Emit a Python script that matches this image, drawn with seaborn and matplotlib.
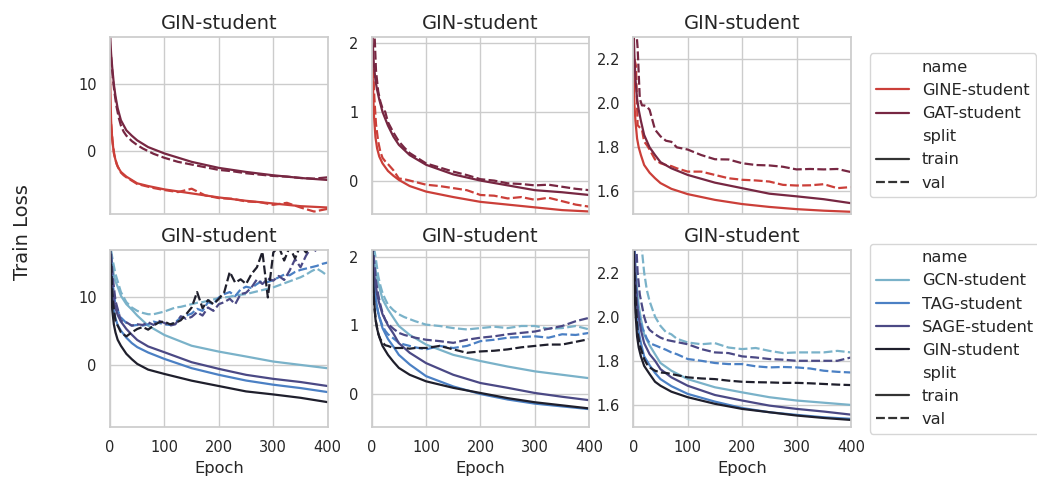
import matplotlib
matplotlib.use("Agg")
import matplotlib.pyplot as plt
import numpy as np
import pandas as pd
import seaborn as sns

# ---------------- data ----------------
train_epochs = [0, 2, 4, 7, 10, 14, 20, 30, 40, 50, 70, 100, 150, 200, 250, 300, 350, 400]
val_epochs = [2, 5, 8, 12, 16, 20, 25, 30, 40, 50, 60, 70, 80, 100, 125, 150, 175,
              200, 225, 250, 275, 300, 325, 350, 375, 400]
noisy_epochs = [2, 5, 10, 20, 30, 40, 50, 60, 70, 80, 90, 100, 110, 120, 130, 140, 150,
                160, 170, 180, 190, 200, 210, 220, 230, 240, 250, 260, 270, 280, 290,
                300, 310, 320, 330, 340, 350, 360, 370, 380, 390, 400]

top_names = ["GINE-student", "GAT-student"]
bottom_names = ["GCN-student", "TAG-student", "SAGE-student", "GIN-student"]
splits = ["train", "val"]
panel_title = "GIN-student"

# top row, column 1
t1_gat_train = [17.5, 14.5, 12.5, 10.0, 8.2, 6.4, 4.6, 3.1, 2.3, 1.6, 0.6, -0.35, -1.6, -2.5, -3.1, -3.6, -4.0, -4.3]
t1_gat_val = [14.0, 11.0, 8.8, 6.6, 5.0, 3.8, 2.9, 2.3, 1.5, 0.9, 0.4, 0.0, -0.4, -1.0, -1.6, -2.0, -2.4,
              -2.8, -3.0, -3.3, -3.5, -3.7, -3.8, -4.0, -4.1, -3.9]
t1_gine_train = [11.0, 4.5, 1.8, -0.3, -1.3, -2.3, -3.1, -3.8, -4.3, -4.8, -5.2, -5.7, -6.3, -6.9, -7.4, -7.8, -8.2, -8.4]
t1_gine_val = [4.0, 1.2, -0.6, -1.9, -2.6, -3.2, -3.6, -3.9, -4.4, -4.9, -5.1, -5.3, -5.5, -5.8, -6.1, -5.6, -6.6,
               -7.0, -7.1, -7.5, -7.6, -8.0, -7.7, -8.4, -9.0, -8.6]

# top row, column 2
t2_gat_train = [2.5, 2.0, 1.70, 1.46, 1.32, 1.18, 1.0, 0.80, 0.64, 0.52, 0.37, 0.23, 0.09, 0.0, -0.07, -0.14, -0.17, -0.21]
t2_gat_val = [2.6, 2.2, 1.6, 1.3, 1.15, 1.05, 1.0, 0.85, 0.70, 0.57, 0.48, 0.40, 0.35, 0.25, 0.19, 0.13, 0.08,
              0.02, 0.0, -0.04, -0.05, -0.07, -0.06, -0.09, -0.12, -0.14]
t2_gine_train = [2.3, 1.5, 0.98, 0.63, 0.47, 0.35, 0.25, 0.14, 0.07, 0.01, -0.08, -0.16, -0.24, -0.31, -0.35, -0.39, -0.43, -0.45]
t2_gine_val = [1.8, 1.2, 0.82, 0.57, 0.42, 0.33, 0.28, 0.24, 0.15, 0.03, 0.02, 0.0, -0.02, -0.06, -0.08, -0.11, -0.14,
               -0.21, -0.22, -0.26, -0.24, -0.28, -0.25, -0.30, -0.35, -0.38]

# top row, column 3
t3_gat_train = [2.4, 2.22, 2.11, 2.02, 1.97, 1.92, 1.856, 1.80, 1.765, 1.733, 1.705, 1.675, 1.64, 1.615, 1.59, 1.578, 1.565, 1.547]
t3_gat_val = [2.4, 2.35, 2.25, 2.02, 1.99, 1.99, 1.985, 1.97, 1.88, 1.85, 1.83, 1.825, 1.80, 1.79, 1.765, 1.746, 1.745,
              1.728, 1.72, 1.718, 1.712, 1.70, 1.702, 1.70, 1.702, 1.688]
t3_gine_train = [2.2, 2.0, 1.92, 1.84, 1.80, 1.765, 1.72, 1.685, 1.66, 1.638, 1.612, 1.588, 1.562, 1.543, 1.53, 1.52, 1.513, 1.508]
t3_gine_val = [2.2, 2.17, 1.90, 1.89, 1.88, 1.826, 1.81, 1.79, 1.745, 1.728, 1.72, 1.715, 1.705, 1.69, 1.69, 1.675, 1.66,
               1.653, 1.65, 1.645, 1.63, 1.627, 1.628, 1.633, 1.615, 1.62]

# bottom row, column 1
b1_gcn_train = [17.5, 16.5, 15.0, 13.3, 12.4, 11.6, 10.25, 9.0, 8.2, 7.3, 5.8, 4.4, 2.8, 1.93, 1.2, 0.45, -0.05, -0.55]
b1_tag_train = [17.5, 13.0, 9.5, 8.0, 6.9, 5.9, 5.05, 4.0, 3.2, 2.6, 1.8, 0.84, -0.54, -1.53, -2.38, -3.0, -3.5, -4.1]
b1_sage_train = [17.5, 14.0, 11.0, 9.4, 8.4, 7.4, 6.4, 5.3, 4.45, 3.66, 2.7, 1.83, 0.35, -0.64, -1.53, -2.13, -2.6, -3.2]
b1_gin_train = [17.5, 12.0, 8.2, 6.0, 4.8, 3.7, 2.8, 1.6, 0.8, 0.1, -0.75, -1.4, -2.4, -3.2, -4.0, -4.45, -4.95, -5.6]
b1_gcn_val = [17.0, 15.5, 13.5, 10.8, 9.3, 8.5, 8.0, 7.7, 7.5, 7.5, 7.7, 7.9, 8.2, 8.5, 8.6, 8.8, 9.0, 9.2, 9.3, 9.5,
              9.7, 9.9, 10.0, 10.1, 10.3, 10.4, 10.5, 10.7, 10.9, 11.1, 11.3, 11.5, 11.8, 12.1, 12.4, 12.7,
              13.0, 13.4, 13.9, 14.3, 13.8, 13.2]
b1_tag_val = [16.0, 12.0, 8.8, 7.0, 6.2, 5.8, 5.9, 5.8, 6.0, 6.4, 6.2, 6.0, 5.9, 6.3, 7.0, 7.3, 7.6, 8.3, 8.0, 9.3,
              9.0, 10.0, 10.5, 10.8, 10.2, 11.2, 11.6, 11.4, 12.0, 12.5, 12.3, 12.6, 13.0, 13.4, 13.3, 13.8,
              14.1, 14.3, 14.5, 14.7, 15.0, 15.2]
b1_sage_val = [16.5, 13.0, 9.5, 6.5, 6.3, 5.8, 6.0, 5.9, 6.3, 5.9, 6.5, 6.2, 5.8, 6.0, 7.2, 6.8, 7.1, 7.8, 7.3, 8.5,
               8.0, 9.0, 9.3, 9.8, 9.0, 10.5, 10.7, 11.5, 12.7, 12.0, 12.8, 12.5, 13.2, 12.6, 14.0, 15.7,
               14.5, 16.2, 17.5, 16.8, 18.0, 18.5]
b1_gin_val = [15.0, 9.5, 6.5, 4.8, 4.2, 4.8, 5.3, 5.6, 5.2, 5.8, 6.3, 6.4, 6.0, 6.2, 6.6, 7.5, 8.5, 10.8, 8.4, 9.6,
              9.0, 9.8, 10.8, 13.8, 12.2, 12.7, 12.0, 13.5, 14.5, 16.8, 10.0, 16.7, 17.6, 15.5, 17.5, 15.8,
              17.8, 16.7, 18.0, 18.5, 19.0, 19.5]

# bottom row, column 2
b2_gcn_train = [2.5, 2.15, 1.96, 1.82, 1.68, 1.56, 1.38, 1.23, 1.11, 0.99, 0.86, 0.72, 0.57, 0.48, 0.40, 0.33, 0.28, 0.23]
b2_tag_train = [2.5, 1.9, 1.62, 1.43, 1.26, 1.12, 0.96, 0.80, 0.69, 0.57, 0.43, 0.26, 0.11, 0.0, -0.08, -0.14, -0.18, -0.22]
b2_sage_train = [2.5, 2.0, 1.77, 1.62, 1.45, 1.32, 1.16, 1.0, 0.88, 0.74, 0.60, 0.45, 0.28, 0.16, 0.09, 0.015, -0.04, -0.09]
b2_gin_train = [2.5, 1.8, 1.43, 1.09, 0.95, 0.83, 0.70, 0.57, 0.47, 0.38, 0.28, 0.185, 0.09, 0.015, -0.06, -0.12, -0.165, -0.21]
b2_gcn_val = [2.3, 2.1, 1.95, 1.72, 1.58, 1.47, 1.38, 1.30, 1.22, 1.16, 1.12, 1.09, 1.06, 1.01, 0.99, 0.96, 0.94,
              0.96, 0.98, 0.96, 0.99, 0.99, 0.95, 0.96, 0.99, 0.94]
b2_tag_val = [2.0, 1.6, 1.35, 1.18, 1.08, 0.99, 0.92, 0.87, 0.81, 0.745, 0.72, 0.70, 0.68, 0.65, 0.70, 0.67, 0.70,
              0.77, 0.79, 0.82, 0.83, 0.84, 0.82, 0.87, 0.86, 0.89]
b2_sage_val = [2.2, 1.9, 1.65, 1.45, 1.30, 1.18, 1.08, 1.02, 0.95, 0.89, 0.86, 0.84, 0.82, 0.79, 0.77, 0.745, 0.79,
               0.82, 0.84, 0.87, 0.89, 0.91, 0.95, 0.99, 1.06, 1.11]
b2_gin_val = [1.6, 1.25, 1.05, 0.88, 0.80, 0.75, 0.71, 0.70, 0.67, 0.67, 0.67, 0.66, 0.67, 0.67, 0.70, 0.65, 0.60,
              0.62, 0.63, 0.65, 0.68, 0.70, 0.72, 0.72, 0.76, 0.80]

# bottom row, column 3
b3_gcn_train = [2.5, 2.35, 2.23, 2.12, 2.05, 1.99, 1.92, 1.87, 1.83, 1.79, 1.755, 1.717, 1.68, 1.657, 1.635, 1.62, 1.61, 1.60]
b3_tag_train = [2.45, 2.2, 2.09, 1.99, 1.93, 1.88, 1.82, 1.78, 1.745, 1.717, 1.685, 1.65, 1.615, 1.586, 1.567, 1.555, 1.544, 1.537]
b3_sage_train = [2.5, 2.3, 2.17, 2.06, 2.0, 1.94, 1.88, 1.83, 1.80, 1.762, 1.725, 1.687, 1.645, 1.62, 1.597, 1.582, 1.57, 1.556]
b3_gin_train = [2.4, 2.15, 2.02, 1.91, 1.86, 1.82, 1.777, 1.74, 1.705, 1.687, 1.66, 1.635, 1.605, 1.582, 1.567, 1.552, 1.541, 1.532]
b3_gcn_val = [2.5, 2.45, 2.4, 2.35, 2.3, 2.2, 2.12, 2.07, 2.0, 1.958, 1.93, 1.92, 1.90, 1.883, 1.875, 1.88, 1.86,
              1.853, 1.858, 1.845, 1.835, 1.838, 1.838, 1.838, 1.845, 1.838]
b3_tag_val = [2.3, 2.15, 2.05, 1.99, 1.95, 1.93, 1.90, 1.88, 1.87, 1.86, 1.85, 1.838, 1.83, 1.808, 1.80, 1.79, 1.785,
              1.785, 1.775, 1.77, 1.772, 1.77, 1.765, 1.755, 1.75, 1.747]
b3_sage_val = [2.45, 2.35, 2.2, 2.1, 2.05, 2.0, 1.96, 1.94, 1.92, 1.905, 1.895, 1.89, 1.885, 1.875, 1.853, 1.838, 1.835,
               1.82, 1.815, 1.808, 1.805, 1.80, 1.80, 1.80, 1.80, 1.815]
b3_gin_val = [2.2, 2.05, 1.93, 1.87, 1.84, 1.808, 1.785, 1.77, 1.755, 1.747, 1.745, 1.74, 1.735, 1.725, 1.72, 1.717, 1.71,
              1.705, 1.703, 1.702, 1.70, 1.70, 1.698, 1.695, 1.692, 1.69]

col_ylims = [(-9.3, 17.0), (-0.48, 2.09), (1.5, 2.3)]
col_yticks = [[0, 10], [0, 1, 2], [1.6, 1.8, 2.0, 2.2]]
x_ticks = [0, 100, 200, 300, 400]

name_colors = {"GCN-student": "#7ab2c9", "TAG-student": "#4b80c4", "SAGE-student": "#4b4985",
               "GIN-student": "#1f1f2c", "GAT-student": "#772742", "GINE-student": "#cb3f39"}

# ---------------- assemble ----------------
def frame(name, train, val, vep):
    a = pd.DataFrame({"Epoch": train_epochs, "loss": train, "name": name, "split": "train"})
    b = pd.DataFrame({"Epoch": vep, "loss": val, "name": name, "split": "val"})
    return pd.concat([a, b], ignore_index=True)

panels = {
    (0, 0): pd.concat([frame("GINE-student", t1_gine_train, t1_gine_val, val_epochs),
                       frame("GAT-student", t1_gat_train, t1_gat_val, val_epochs)]),
    (0, 1): pd.concat([frame("GINE-student", t2_gine_train, t2_gine_val, val_epochs),
                       frame("GAT-student", t2_gat_train, t2_gat_val, val_epochs)]),
    (0, 2): pd.concat([frame("GINE-student", t3_gine_train, t3_gine_val, val_epochs),
                       frame("GAT-student", t3_gat_train, t3_gat_val, val_epochs)]),
    (1, 0): pd.concat([frame("GCN-student", b1_gcn_train, b1_gcn_val, noisy_epochs),
                       frame("TAG-student", b1_tag_train, b1_tag_val, noisy_epochs),
                       frame("SAGE-student", b1_sage_train, b1_sage_val, noisy_epochs),
                       frame("GIN-student", b1_gin_train, b1_gin_val, noisy_epochs)]),
    (1, 1): pd.concat([frame("GCN-student", b2_gcn_train, b2_gcn_val, val_epochs),
                       frame("TAG-student", b2_tag_train, b2_tag_val, val_epochs),
                       frame("SAGE-student", b2_sage_train, b2_sage_val, val_epochs),
                       frame("GIN-student", b2_gin_train, b2_gin_val, val_epochs)]),
    (1, 2): pd.concat([frame("GCN-student", b3_gcn_train, b3_gcn_val, val_epochs),
                       frame("TAG-student", b3_tag_train, b3_tag_val, val_epochs),
                       frame("SAGE-student", b3_sage_train, b3_sage_val, val_epochs),
                       frame("GIN-student", b3_gin_train, b3_gin_val, val_epochs)]),
}

# ---------------- style ----------------
sns.set_theme(style="whitegrid")
plt.rcParams["font.family"] = ["DejaVu Sans"]

fig, axes = plt.subplots(2, 3, figsize=(10.37, 4.78), dpi=100, sharex=True, sharey="col")
fig.subplots_adjust(left=0.1061, right=0.8206, top=0.9226, bottom=0.1067, wspace=0.2018, hspace=0.209)

for (r, c), df in panels.items():
    ax = axes[r, c]
    names = top_names if r == 0 else bottom_names
    sns.lineplot(data=df, x="Epoch", y="loss", hue="name", style="split",
                 hue_order=names, style_order=splits,
                 palette={n: name_colors[n] for n in names},
                 linewidth=1.6, ax=ax, legend=(c == 2))
    ax.set_title(panel_title, fontsize=14, color=".15")
    ax.set_ylabel("")
    ax.set_xlim(0, 400)
    ax.set_ylim(*col_ylims[c])
    ax.set_yticks(col_yticks[c])
    ax.set_xticks(x_ticks)
    ax.tick_params(labelsize=10.5, colors=".15")
    if r == 1:
        ax.set_xlabel("Epoch", fontsize=11.7, color=".15")
    else:
        ax.set_xlabel("")
    if c == 2:
        sns.move_legend(ax, "center left", bbox_to_anchor=(1.05, 0.5), fontsize=11.7,
                        frameon=True)

fig.text(0.022, 0.515, "Train Loss", rotation=90, ha="center", va="center",
         fontsize=14, color=".15")

fig.savefig("out.png", dpi=100)
